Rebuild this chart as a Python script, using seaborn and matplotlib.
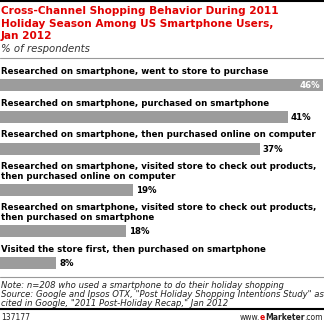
import numpy as np
import pandas as pd
import matplotlib
matplotlib.use("Agg")
import matplotlib.pyplot as plt
import seaborn as sns

# ---------------- data ----------------
title_lines = [
    "Cross-Channel Shopping Behavior During 2011",
    "Holiday Season Among US Smartphone Users,",
    "Jan 2012",
]
subtitle = "% of respondents"
categories = [
    "Researched on smartphone, went to store to purchase",
    "Researched on smartphone, purchased on smartphone",
    "Researched on smartphone, then purchased online on computer",
    "Researched on smartphone, visited store to check out products,\nthen purchased online on computer",
    "Researched on smartphone, visited store to check out products,\nthen purchased on smartphone",
    "Visited the store first, then purchased on smartphone",
]
values = [46, 41, 37, 19, 18, 8]
note_lines = [
    "Note: n=208 who used a smartphone to do their holiday shopping",
    "Source: Google and Ipsos OTX, \"Post Holiday Shopping Intentions Study\" as",
    "cited in Google, \"2011 Post-Holiday Recap,\" Jan 2012",
]
footer_id = "137177"

# ---------------- layout (pixels) ----------------
W, H = 324, 326
PX_PER_PCT = 7.02
first_label = 71.0
label_lh = 9.7
lab2bar = 14.3
bar2lab = 17.3
bar_h = 12.0

label_ys, bar_ys = [], []
y = first_label
for c in categories:
    n = c.count("\n") + 1
    label_ys.append(y)
    by = y + (n - 1) * label_lh + lab2bar
    bar_ys.append(by)
    y = by + bar2lab

sns.set_style("white")
plt.rcParams["font.family"] = ["DejaVu Sans"]

fig = plt.figure(figsize=(W / 100, H / 100), dpi=100)
ax = fig.add_axes([0, 0, 1, 1])

df = pd.DataFrame({"category": categories, "value": values, "ypos": bar_ys})
min_gap = np.min(np.diff(bar_ys))
sns.barplot(data=df, x="value", y="ypos", orient="h", native_scale=True,
            width=bar_h / min_gap, color="#9c9c9c", saturation=1,
            edgecolor="none", linewidth=0, ax=ax)
ax.set_xlim(0, W / PX_PER_PCT)
ax.set_ylim(H, 0)
ax.axis("off")

def xp(px):
    return px / PX_PER_PCT

# category labels
lab_fs = 6.2
cap_lab = 0.73 * lab_fs * 100 / 72
for cat, ly in zip(categories, label_ys):
    for i, line in enumerate(cat.split("\n")):
        ax.text(xp(1), ly + i * label_lh + cap_lab / 2, line, fontsize=lab_fs,
                fontweight="bold", color="black", va="baseline", ha="left")

# value labels
vmax = max(values)
for v, by in zip(values, bar_ys):
    if v == vmax:
        ax.text(v - xp(3), by + cap_lab / 2, f"{v}%", fontsize=lab_fs, fontweight="bold",
                color="white", ha="right", va="baseline")
    else:
        ax.text(v + xp(3), by + cap_lab / 2, f"{v}%", fontsize=lab_fs, fontweight="bold",
                color="black", ha="left", va="baseline")

# title
t_fs = 7.55
cap_t = 0.73 * t_fs * 100 / 72
for i, line in enumerate(title_lines):
    ax.text(xp(1), 10.5 + i * 12.3 + cap_t / 2, line, fontsize=t_fs, fontweight="bold",
            color="#e00000", va="baseline", ha="left")
ax.text(xp(1), 48.5 + 3.5, subtitle, fontsize=7.3, fontstyle="italic", color="#333333",
        va="baseline", ha="left")

# rules
ax.plot([0, xp(W)], [1, 1], color="black", lw=1.5, solid_capstyle="butt")
ax.plot([0, xp(W)], [58, 58], color="#999999", lw=0.8)
ax.plot([0, xp(W)], [276.5, 276.5], color="#999999", lw=0.8)
ax.plot([0, xp(W)], [309, 309], color="black", lw=1.5)

# notes
n_fs = 6.1
for i, line in enumerate(note_lines):
    ax.text(xp(1), 285 + i * 9.2 + 3, line, fontsize=n_fs, fontstyle="italic",
            color="#222222", va="baseline", ha="left")

# footer
fy = 317.5 + 2.8
ax.text(xp(1), fy, footer_id, fontsize=5.5, color="#222222", va="baseline", ha="left")
foot_parts = [("www.", "#222222", "normal"), ("e", "#e00000", "bold"),
              ("Marketer", "#222222", "bold"), (".com", "#222222", "normal")]
fig.canvas.draw()
r = fig.canvas.get_renderer()
xr = W - 1
for txt, col, wt in reversed(foot_parts):
    t = ax.text(xp(xr), fy, txt, fontsize=5.5, color=col, fontweight=wt,
                va="baseline", ha="right")
    bb = t.get_window_extent(renderer=r)
    xr -= bb.width

fig.savefig("out.png", dpi=100)
